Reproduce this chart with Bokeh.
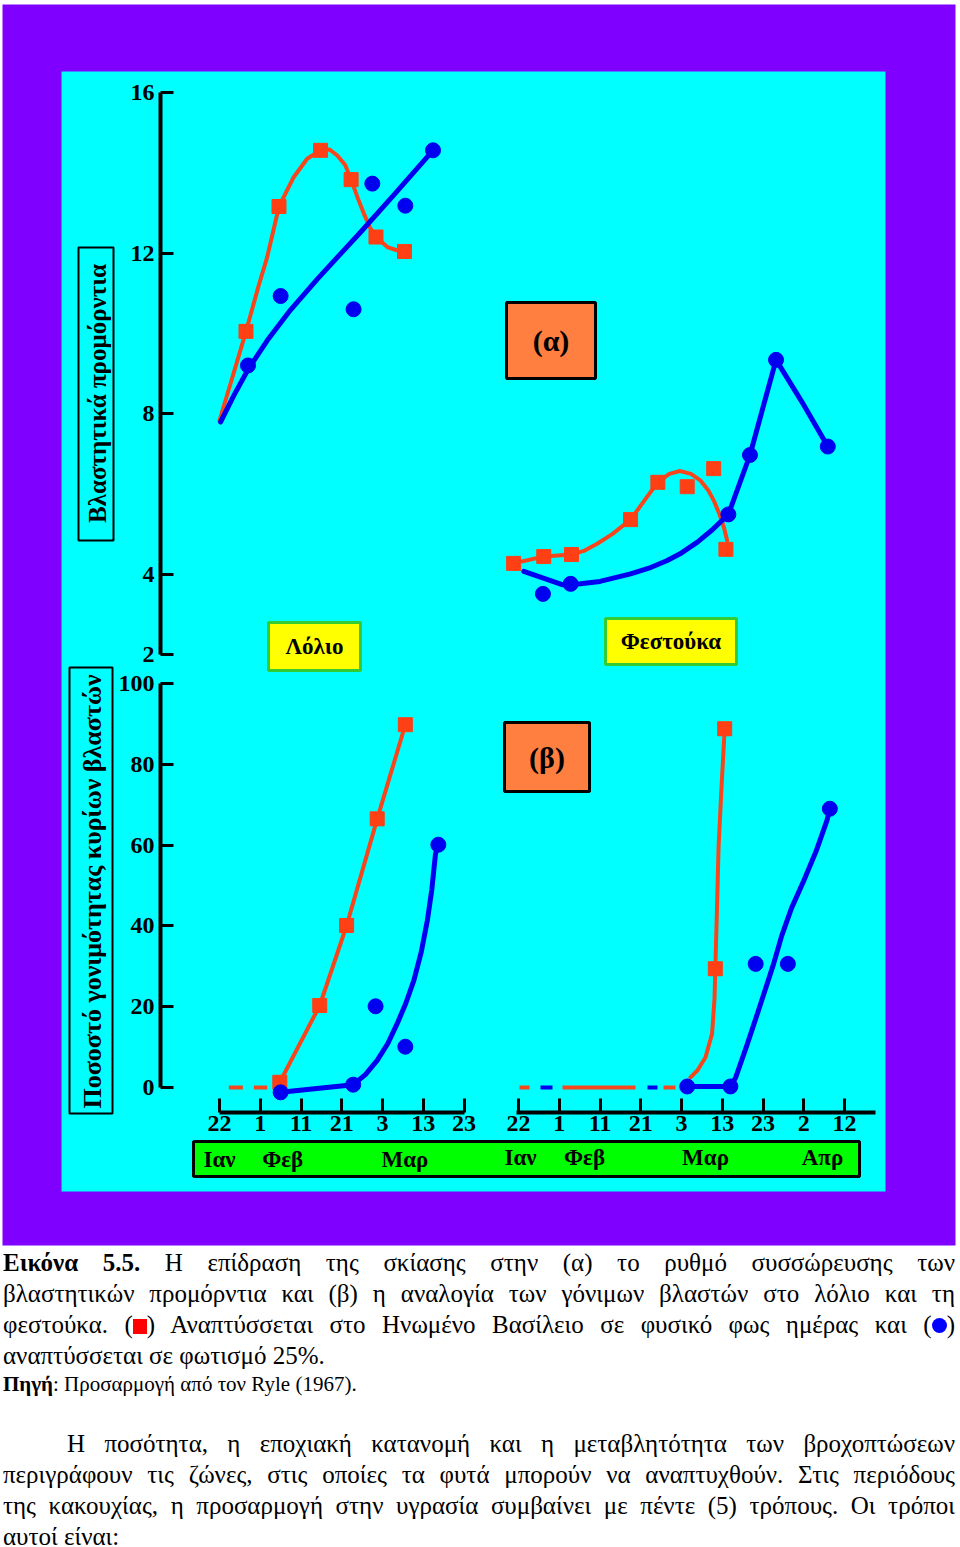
import numpy as np
from bokeh.plotting import figure
from bokeh.models import Range1d, LinearAxis, FixedTicker, Label, Div
from bokeh.layouts import column
from bokeh.core.properties import value
from bokeh.embed import file_html
from bokeh.resources import INLINE

# ------------------------------------------------------------------ data
# x = days after 22 January ; (α) y = number of vegetative primordia ; (β) y = % fertile main tillers
# (α) Lolium (Λόλιο)
lol_a_red_x = [6.5, 14.6, 24.8, 32.3, 38.4, 45.4]
lol_a_red_y = [10.05, 13.16, 14.56, 13.83, 12.40, 12.04]
lol_a_red_fit_x = [0.0, 3.3, 6.5, 9.5, 11.7, 14.6, 18.2, 21.5, 24.8, 27.0, 28.9, 30.8,
                   32.3, 34.0, 35.4, 37.0, 38.4, 41.2, 43.5, 45.4]
lol_a_red_fit_y = [7.83, 8.95, 10.05, 11.15, 11.90, 13.16, 13.89, 14.35, 14.56, 14.58, 14.43, 14.20,
                   13.83, 13.35, 12.99, 12.62, 12.40, 12.15, 12.07, 12.04]
lol_a_blue_x = [7.0, 15.0, 32.9, 37.5, 45.6, 52.4]
lol_a_blue_y = [9.20, 10.93, 10.60, 13.73, 13.18, 14.56]
lol_a_blue_fit_x = [0.25, 3.5, 7.0, 11.7, 17.4, 24.0, 29.7, 34.6, 42.8, 52.4]
lol_a_blue_fit_y = [7.79, 8.45, 9.10, 9.82, 10.58, 11.35, 11.98, 12.52, 13.45, 14.56]

# (α) Festuca (Φεστούκα)
fes_a_red_x = [-1.2, 6.2, 13.0, 27.5, 34.2, 41.4, 47.9, 50.9]
fes_a_red_y = [4.27, 4.44, 4.49, 5.36, 6.29, 6.18, 6.63, 4.62]
fes_a_red_fit_x = [-1.2, 6.2, 13.0, 16.0, 19.3, 23.0, 27.5, 31.0, 34.2, 37.0, 39.6, 42.3,
                   44.7, 46.5, 47.9, 49.3, 50.4, 51.2]
fes_a_red_fit_y = [4.27, 4.44, 4.49, 4.58, 4.76, 5.00, 5.36, 5.85, 6.29, 6.50, 6.57, 6.50,
                   6.33, 6.10, 5.84, 5.50, 5.17, 4.84]
fes_a_blue_x = [6.0, 12.8, 51.5, 56.8, 63.2, 75.9]
fes_a_blue_y = [3.51, 3.76, 5.49, 6.97, 9.34, 7.18]
fes_a_blue_fit_x = [1.3, 10.7, 12.8, 15.2, 20.0, 27.5, 32.0, 36.5, 40.0, 43.9, 47.5, 51.5,
                    56.8, 63.2, 69.5, 75.9]
fes_a_blue_fit_y = [4.07, 3.74, 3.74, 3.76, 3.82, 4.01, 4.15, 4.34, 4.53, 4.80, 5.10, 5.49,
                    6.97, 9.34, 8.30, 7.18]

# (β) Lolium
lol_b_red_x = [14.8, 24.6, 31.2, 38.7, 45.6]
lol_b_red_y = [1.3, 20.3, 40.1, 66.5, 89.8]
lol_b_red_zero_x = [2.3, 11.7]
lol_b_red_zero_y = [0, 0]
lol_b_blue_x = [15.0, 32.8, 38.3, 45.6, 53.7]
lol_b_blue_y = [-1.2, 0.7, 20.1, 10.1, 60.1]
lol_b_blue_fit_x = [15.0, 32.8, 35.8, 38.7, 41.3, 43.6, 45.7, 47.7, 49.5, 51.0, 52.1, 53.0, 53.7]
lol_b_blue_fit_y = [-1.2, 0.7, 3.2, 6.7, 10.9, 15.8, 20.8, 26.5, 33.5, 41.3, 49.0, 57.8, 60.1]

# (β) Festuca
fes_b_red_x = [48.3, 50.6]
fes_b_red_y = [29.4, 88.8]
fes_b_red_fit_x = [42.2, 43.9, 45.9, 47.5, 48.1, 48.3, 48.7, 49.1, 49.8, 50.6]
fes_b_red_fit_y = [2.5, 4.2, 7.5, 13.3, 22.0, 29.4, 44.0, 59.5, 74.0, 88.8]
fes_b_red_zero_x = [0.25, 38.5]
fes_b_red_zero_y = [0, 0]
fes_b_blue_x = [41.4, 52.0, 58.2, 66.1, 76.4]
fes_b_blue_y = [0.25, 0.25, 30.6, 30.6, 69.0]
fes_b_blue_fit_x = [41.4, 52.0, 53.3, 56.0, 58.6, 60.8, 62.6, 64.6, 67.0, 70.0, 73.0, 75.7, 76.4]
fes_b_blue_fit_y = [0.25, 0.25, 2.5, 10.3, 18.2, 25.0, 30.6, 37.6, 44.4, 51.2, 58.4, 66.1, 69.0]
fes_b_blue_zero_x = [5.4, 34.1]
fes_b_blue_zero_y = [0, 0]

# ticks
date_ticks_l = [0, 10, 20, 30, 40, 50, 60]
date_labels_l = ["22", "1", "11", "21", "3", "13", "23"]
date_ticks_r = [0, 10, 20, 30, 40, 50, 60, 70, 80]
date_labels_r = ["22", "1", "11", "21", "3", "13", "23", "2", "12"]
ya_ticks = [2, 4, 8, 12, 16]
yb_ticks = [0, 20, 40, 60, 80, 100]
months_l = ["Ιαν", "Φεβ", "Μαρ"]
months_l_x = [0.0, 15.5, 45.5]
months_r = ["Ιαν", "Φεβ", "Μαρ", "Απρ"]
months_r_x = [0.5, 16.2, 45.9, 74.6]

# ------------------------------------------------------------------ styles
W, H = 960, 1247
PURPLE = "#7f00ff"
CYAN = "#00ffff"
RED = "#f8461c"
MRED = "#ff3f14"
BLUE = "#0000f0"
ORANGE = "#ff7f40"
SERIF = "Liberation Serif"


def rng(v1, p1, v2, p2, lo_px, hi_px):
    s = (v2 - v1) / (p2 - p1)
    return Range1d(start=v1 + (lo_px - p1) * s, end=v1 + (hi_px - p1) * s)


p = figure(width=W, height=H, x_range=Range1d(0, W), y_range=Range1d(H, 0),
           x_axis_type=None, y_axis_type=None, output_backend="svg",
           toolbar_location=None, min_border=0, outline_line_color=None,
           background_fill_color="white", border_fill_color="white", margin=0)

p.extra_x_ranges = {"xl": rng(0, 219, 60, 463.5, 0, W),
                    "xr": rng(0, 518, 80, 844, 0, W)}
p.extra_y_ranges = {"ya": rng(2, 654, 16, 92, H, 0),
                    "yb": rng(0, 1087, 100, 683, H, 0)}

# backgrounds
p.quad(left=[2], right=[955], top=[4], bottom=[1245], fill_color=PURPLE, line_color=None)
p.quad(left=[61], right=[885], top=[71], bottom=[1191], fill_color=CYAN, line_color=None)

# y-label boxes
p.quad(left=[78], right=[113], top=[247], bottom=[540], fill_color=None, line_color="black", line_width=2)
p.quad(left=[69], right=[112], top=[667], bottom=[1113], fill_color=None, line_color="black", line_width=2)
p.add_layout(Label(x=97, y=393, text="Βλαστητικά προμόρντια", angle=90, angle_units="deg",
                   text_align="center", text_baseline="middle", text_font=SERIF,
                   text_font_style="bold", text_font_size="25px", text_color="black"))
p.add_layout(Label(x=92, y=891, text="Ποσοστό γονιμότητας κυρίων βλαστών", angle=90, angle_units="deg",
                   text_align="center", text_baseline="middle", text_font=SERIF,
                   text_font_style="bold", text_font_size="26px", text_color="black"))

# panel tag boxes
p.quad(left=[506, 504], right=[595, 589], top=[302, 722], bottom=[378, 791],
       fill_color=ORANGE, line_color="black", line_width=3)
p.text(x=[550.5, 546.5], y=[340, 756.5], text=["(α)", "(β)"], text_align="center",
       text_baseline="middle", text_font=value(SERIF), text_font_style="bold",
       text_font_size="30px", text_color="black")
p.quad(left=[268, 605], right=[360, 736], top=[622, 618], bottom=[670, 664],
       fill_color="#ffff00", line_color="#33cc33", line_width=3)
p.text(x=[314, 670.5], y=[646, 641], text=["Λόλιο", "Φεστούκα"], text_align="center",
       text_baseline="middle", text_font=value(SERIF), text_font_style="bold",
       text_font_size="23px", text_color="black")

# month bar
p.quad(left=[193], right=[859], top=[1141], bottom=[1176], fill_color="#00ff00",
       line_color="black", line_width=3)
p.text(x=months_l_x, y=[1159] * len(months_l), text=months_l, x_range_name="xl",
       text_align="center", text_baseline="middle", text_font=value(SERIF),
       text_font_style="bold", text_font_size="23px", text_color="black")
p.text(x=months_r_x, y=[1157] * len(months_r), text=months_r, x_range_name="xr",
       text_align="center", text_baseline="middle", text_font=value(SERIF),
       text_font_style="bold", text_font_size="23px", text_color="black")


# ---------------------------------------------------------------- axes
def style_axis(ax, tick_in, standoff):
    ax.axis_line_width = 4
    ax.axis_line_color = "black"
    ax.major_tick_line_width = 3
    ax.major_tick_line_color = "black"
    ax.major_tick_in = tick_in
    ax.major_tick_out = 0
    ax.minor_tick_line_color = None
    ax.major_label_text_font = SERIF
    ax.major_label_text_font_style = "bold"
    ax.major_label_text_font_size = "24px"
    ax.major_label_text_color = "black"
    ax.major_label_standoff = standoff


ax_a = LinearAxis(y_range_name="ya", fixed_location=160, bounds=(2, 16),
                  ticker=FixedTicker(ticks=ya_ticks))
style_axis(ax_a, 13, 6)
p.add_layout(ax_a, "left")
ax_b = LinearAxis(y_range_name="yb", fixed_location=160, bounds=(0, 100),
                  ticker=FixedTicker(ticks=yb_ticks))
style_axis(ax_b, 13, 6)
p.add_layout(ax_b, "left")

ax_l = LinearAxis(x_range_name="xl", fixed_location=1112, bounds=(0, 60),
                  ticker=FixedTicker(ticks=date_ticks_l),
                  major_label_overrides={t: s for t, s in zip(date_ticks_l, date_labels_l)})
style_axis(ax_l, 14, 3)
p.add_layout(ax_l, "below")
ax_r = LinearAxis(x_range_name="xr", fixed_location=1112, bounds=(-0.6, 87.5),
                  ticker=FixedTicker(ticks=date_ticks_r),
                  major_label_overrides={t: s for t, s in zip(date_ticks_r, date_labels_r)})
style_axis(ax_r, 14, 3)
p.add_layout(ax_r, "below")

# ---------------------------------------------------------------- series
def series(xn, yn, fit_x, fit_y, mx, my, color, mcolor, marker, lw, size):
    p.line(fit_x, fit_y, x_range_name=xn, y_range_name=yn, line_color=color, line_width=lw,
           line_join="round", line_cap="round")
    p.scatter(mx, my, x_range_name=xn, y_range_name=yn, marker=marker, size=size,
              fill_color=mcolor, line_color=mcolor)


series("xl", "ya", lol_a_red_fit_x, lol_a_red_fit_y, lol_a_red_x, lol_a_red_y, RED, MRED, "square", 4, 14)
series("xl", "ya", lol_a_blue_fit_x, lol_a_blue_fit_y, lol_a_blue_x, lol_a_blue_y, BLUE, BLUE, "circle", 5, 15)
series("xr", "ya", fes_a_red_fit_x, fes_a_red_fit_y, fes_a_red_x, fes_a_red_y, RED, MRED, "square", 4, 14)
series("xr", "ya", fes_a_blue_fit_x, fes_a_blue_fit_y, fes_a_blue_x, fes_a_blue_y, BLUE, BLUE, "circle", 5, 15)

p.line(lol_b_red_zero_x, lol_b_red_zero_y, x_range_name="xl", y_range_name="yb",
       line_color=RED, line_width=4, line_dash="14 11")
series("xl", "yb", lol_b_red_x, lol_b_red_y, lol_b_red_x, lol_b_red_y, RED, MRED, "square", 4, 14)
series("xl", "yb", lol_b_blue_fit_x, lol_b_blue_fit_y, lol_b_blue_x, lol_b_blue_y, BLUE, BLUE, "circle", 5, 15)

p.line(fes_b_red_zero_x, fes_b_red_zero_y, x_range_name="xr", y_range_name="yb",
       line_color=RED, line_width=4, line_dash="10 33 73 28 12")
p.line(fes_b_blue_zero_x, fes_b_blue_zero_y, x_range_name="xr", y_range_name="yb",
       line_color=BLUE, line_width=4, line_dash="12 95")
series("xr", "yb", fes_b_red_fit_x, fes_b_red_fit_y, fes_b_red_x, fes_b_red_y, RED, MRED, "square", 4, 14)
series("xr", "yb", fes_b_blue_fit_x, fes_b_blue_fit_y, fes_b_blue_x, fes_b_blue_y, BLUE, BLUE, "circle", 5, 15)

# ---------------------------------------------------------------- caption text
FONT = "'Liberation Serif', 'Times New Roman', serif"
SQ = ("<span style='display:inline-block;width:14px;height:15px;background:#ff0000;"
      "vertical-align:-1px;'></span>")
DOT = ("<span style='display:inline-block;width:15px;height:15px;border-radius:50%;"
       "background:#0000ff;vertical-align:0px;'></span>")


def jline(html, size=25, h=31, justify=True, indent=0, top=0):
    al = ("text-align:justify;text-align-last:justify;text-justify:inter-word;"
          if justify else "text-align:left;")
    return (f"<div style=\"{al}font-size:{size}px;line-height:{h}px;height:{h}px;"
            f"text-indent:{indent}px;margin-top:{top}px;\">{html}</div>")


caption = "".join([
    jline("<b>Εικόνα 5.5.</b> Η επίδραση της σκίασης στην (α) το ρυθμό συσσώρευσης των"),
    jline("βλαστητικών προμόρντια και (β) η αναλογία των γόνιμων βλαστών στο λόλιο και τη"),
    jline(f"φεστούκα. ({SQ}) Αναπτύσσεται στο Ηνωμένο "
          f"Βασίλειο σε φυσικό φως ημέρας και ({DOT})"),
    jline("αναπτύσσεται σε φωτισμό 25%.", justify=False),
    jline("<b>Πηγή</b>: Προσαρμογή από τον Ryle (1967).", size=21, h=27, justify=False),
    jline("Η ποσότητα, η εποχιακή κατανομή και η μεταβλητότητα των βροχοπτώσεων", indent=64, top=30),
    jline("περιγράφουν τις ζώνες, στις οποίες τα φυτά μπορούν να αναπτυχθούν. Στις περιόδους"),
    jline("της κακουχίας, η προσαρμογή στην υγρασία συμβαίνει με πέντε (5) τρόπους. Οι τρόποι"),
    jline("αυτοί είναι:", justify=False),
])
div = Div(text=f"<div style=\"width:955px;padding-left:3px;font-family:{FONT};color:#000;\">{caption}</div>",
          width=960, height=300, margin=0)

layout = column(p, div, margin=0, spacing=0)
open("out.html", "w").write(file_html(layout, INLINE))
